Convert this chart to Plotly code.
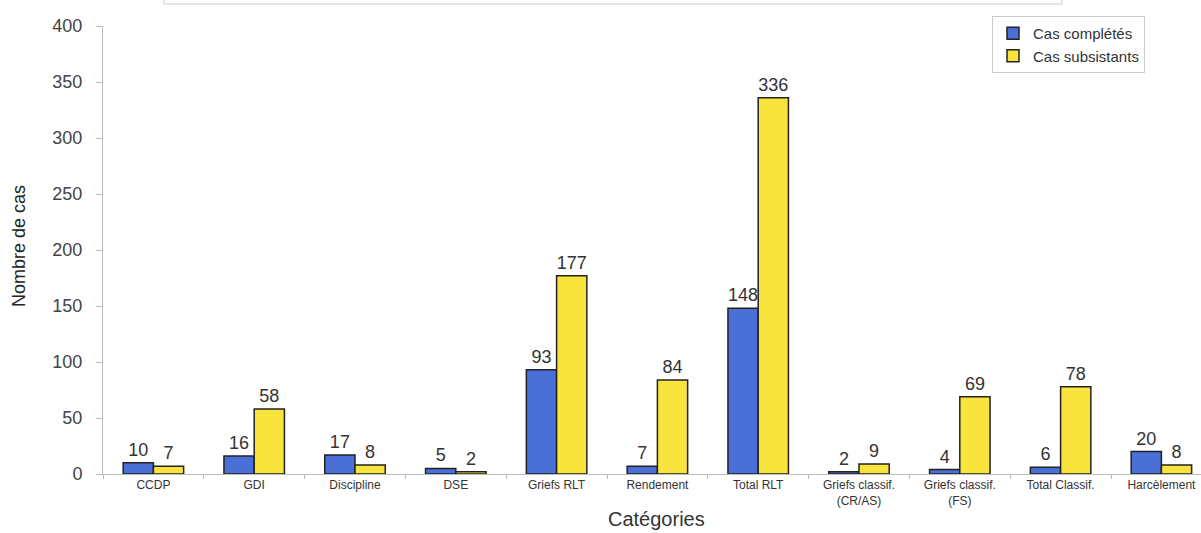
import plotly.graph_objects as go

categories = ["CCDP", "GDI", "Discipline", "DSE", "Griefs RLT", "Rendement",
              "Total RLT", "Griefs classif.<br>(CR/AS)", "Griefs classif.<br>(FS)",
              "Total Classif.", "Harcèlement"]
cas_completes = [10, 16, 17, 5, 93, 7, 148, 2, 4, 6, 20]
cas_subsistants = [7, 58, 8, 2, 177, 84, 336, 9, 69, 78, 8]
y_ticks = [0, 50, 100, 150, 200, 250, 300, 350, 400]

W, H = 1201, 533
L, R, T, B = 103, 0, 26, 59
ph = H - T - B
pw = W - L - R
cat_w = 100.8

def px_x(x):
    return (x - L) / pw

def px_y(y):
    return 1 - (y - T) / ph

font_main = "Liberation Sans, Arial, sans-serif"

fig = go.Figure()
fig.add_trace(go.Bar(
    x=categories, y=cas_completes, name="Cas complétés",
    marker=dict(color="#4A6FD6", line=dict(color="#222222", width=1.5)),
    text=cas_completes, textposition="outside", cliponaxis=False,
    constraintext="none",
    textfont=dict(size=18, color="#333333", family=font_main),
))
fig.add_trace(go.Bar(
    x=categories, y=cas_subsistants, name="Cas subsistants",
    marker=dict(color="#F8E43C", line=dict(color="#222222", width=1.5)),
    text=cas_subsistants, textposition="outside", cliponaxis=False,
    constraintext="none",
    textfont=dict(size=18, color="#333333", family=font_main),
))

fig.update_layout(
    width=W, height=H,
    margin=dict(l=L, r=R, t=T, b=B, pad=0),
    paper_bgcolor="white", plot_bgcolor="white",
    barmode="group", bargap=0.4, bargroupgap=0,
    font=dict(family=font_main, color="#333333"),
    showlegend=True,
    legend=dict(
        x=px_x(992), y=px_y(16), xanchor="left", yanchor="top",
        bordercolor="#cccccc", borderwidth=1, bgcolor="white",
        font=dict(size=15, color="#333333"),
        tracegroupgap=0, itemwidth=30,
    ),
    xaxis=dict(
        range=[-0.5, -0.5 + pw / cat_w],
        showline=True, linecolor="#bbbbbb", linewidth=1,
        ticks="outside", tickson="boundaries", ticklen=4, tickcolor="#bbbbbb",
        tickfont=dict(size=12, color="#333333"),
        showgrid=False, zeroline=False, fixedrange=True,
    ),
    yaxis=dict(
        range=[0, 400], tickvals=y_ticks,
        showline=True, linecolor="#bbbbbb", linewidth=1,
        ticks="outside", ticklen=6, tickcolor="#bbbbbb",
        ticklabelstandoff=10,
        tickfont=dict(size=18, color="#444444"),
        showgrid=False, zeroline=False,
    ),
    shapes=[dict(
        type="rect", xref="paper", yref="paper",
        x0=px_x(164), x1=px_x(1062), y0=px_y(4), y1=px_y(-40),
        line=dict(color="#cccccc", width=1), fillcolor="rgba(0,0,0,0)",
    )],
    annotations=[
        dict(text="Catégories", xref="paper", yref="paper",
             x=px_x(656), y=px_y(519), xanchor="center", yanchor="middle",
             showarrow=False, font=dict(size=20, color="#333333")),
        dict(text="Nombre de cas", xref="paper", yref="paper",
             x=px_x(19), y=px_y(246), xanchor="center", yanchor="middle",
             textangle=-90, showarrow=False,
             font=dict(size=18, color="#222222")),
    ],
)

fig.write_html("out.html",
               config={"displayModeBar": False},
               post_script="document.body.style.margin='0';document.body.style.overflow='hidden';")
